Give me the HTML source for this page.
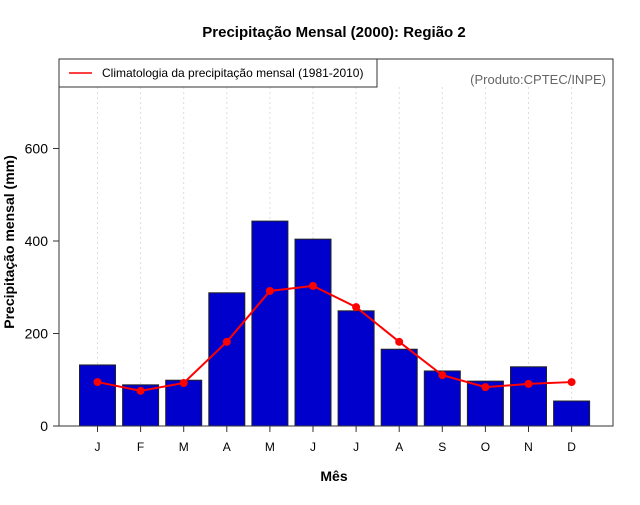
<!DOCTYPE html>
<html><head><meta charset="utf-8"><style>
body{margin:0;background:#fff;width:640px;height:500px;overflow:hidden}
text{font-family:"Liberation Sans",sans-serif}
</style></head><body>
<svg id="chart" width="640" height="500">
<rect width="640" height="500" fill="#fff"/>
<text x="334" y="37" text-anchor="middle" font-size="15" font-weight="bold">Precipitação Mensal (2000): Região 2</text>
<g id="grid"></g>
<g id="bars"></g>
<g id="line"></g>
<rect x="59" y="59" width="554" height="367" fill="none" stroke="#333" stroke-width="1"/>
<g id="yaxis"></g>
<g id="xaxis"></g>
<text x="334" y="481" text-anchor="middle" font-size="14" font-weight="bold">Mês</text>
<text transform="translate(14,242) rotate(-90)" text-anchor="middle" font-size="14" font-weight="bold">Precipitação mensal (mm)</text>
<g>
<rect x="59" y="59" width="318" height="28" fill="#fff" stroke="#333"/>
<line x1="69" y1="73" x2="92" y2="73" stroke="red" stroke-width="1.5"/>
<text x="102" y="77" font-size="12">Climatologia da precipitação mensal (1981-2010)</text>
</g>
<text x="606" y="84" text-anchor="end" font-size="13" fill="#666">(Produto:CPTEC/INPE)</text>
</svg>
<script>
const months = ["J","F","M","A","M","J","J","A","S","O","N","D"];
const precip = [132,89,99,288,443,404,249,166,119,97,128,54];
const climatology = [95,76,93,182,292,303,257,182,110,84,91,95];
const yTicks = [0,200,400,600];
const NS="http://www.w3.org/2000/svg";
const xs=i=>97.5+i*43.1;
const ys=v=>426-v*0.4625;
function mk(tag,attrs,parent){const e=document.createElementNS(NS,tag);for(const k in attrs)e.setAttribute(k,attrs[k]);document.getElementById(parent).appendChild(e);return e;}
months.forEach((m,i)=>{
  const g=mk('line',{x1:xs(i),x2:xs(i),y1:87,y2:426,stroke:'#ddd','stroke-dasharray':'2,3'},'grid');
  
  
  const b=mk('rect',{x:xs(i)-18,y:ys(precip[i]),width:36,height:426-ys(precip[i]),fill:'#0000cd',stroke:'#222','stroke-width':1},'bars');
  
  
  const t=mk('line',{x1:xs(i),x2:xs(i),y1:426,y2:432,stroke:'#333'},'xaxis');
  
  
  const l=mk('text',{x:xs(i),y:451,'text-anchor':'middle','font-size':12},'xaxis');
  l.textContent=m;
  
  
});
const p=mk('polyline',{points:climatology.map((v,i)=>xs(i)+','+ys(v)).join(' '),fill:'none',stroke:'red','stroke-width':2},'line');


climatology.forEach((v,i)=>{
  const c=mk('circle',{cx:xs(i),cy:ys(v),r:4,fill:'red'},'line');
  
  
});
yTicks.forEach(v=>{
  const t=mk('line',{x1:53,x2:59,y1:ys(v),y2:ys(v),stroke:'#333'},'yaxis');
  
  
  const l=mk('text',{x:48,y:ys(v)+5,'text-anchor':'end','font-size':14},'yaxis');
  l.textContent=v;
  
  
});
</script>
</body></html>
